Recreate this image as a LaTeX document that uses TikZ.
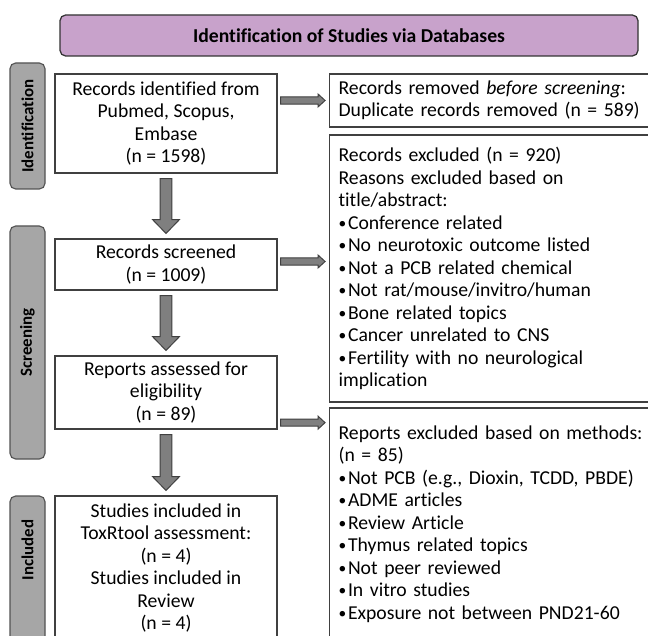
\documentclass[tikz,border=0pt]{standalone}
\usepackage{fontspec}
\setmainfont{Carlito}[Ligatures=NoCommon]
\usepackage{xcolor}
\usepackage{tikz}
\usetikzlibrary{calc}

\definecolor{headfill}{HTML}{C8A2CB}
\definecolor{stagefill}{HTML}{A6A6A6}
\definecolor{edge}{HTML}{404040}
\definecolor{arrowfill}{HTML}{7F7F7F}

\newlength{\pxu}
\setlength{\pxu}{0.025cm}
\newcommand{\bul}{\raisebox{.7pt}{\fontsize{11}{11}\selectfont•}\hspace{1.2pt}}

\begin{document}
\begin{tikzpicture}[
  x=0.025cm,y=-0.025cm,
  header/.style={draw=edge!80!black,line width=.9pt,rounded corners=4pt,
    fill=headfill,font=\fontsize{14}{16}\selectfont\bfseries,
    minimum width=578\pxu,minimum height=41\pxu},
  stage/.style={draw=edge!90,line width=.8pt,rounded corners=4pt,
    fill=stagefill,rotate=90,font=\fontsize{12}{14}\selectfont\bfseries,
    minimum height=35\pxu,inner sep=0pt},
  stepbox/.style={draw=edge,line width=.9pt,fill=white,align=center,
    font=\fontsize{14}{16}\selectfont,minimum width=222\pxu,inner sep=2pt},
  outbox/.style={draw=edge,line width=.9pt,fill=white,align=left,
    anchor=west,font=\fontsize{14}{16}\selectfont,text width=330\pxu,
    inner xsep=9\pxu,inner ysep=2pt},
  fatarrow/.style={draw=edge,line width=.7pt,fill=arrowfill,line join=miter}
]
\useasboundingbox (0,0) rectangle (648,635);
\clip (0,0) rectangle (648,635);
\fill[white] (0,0) rectangle (648,635);

\node[header] (title) at (349,35.5) {Identification of Studies via Databases};

\node[stage,minimum width=126\pxu] (idlab) at (27.5,126) {Identification};
\node[stage,minimum width=233\pxu] (scrlab) at (27.5,342.5) {Screening};
\node[stage,minimum width=164\pxu] (inclab) at (27.5,578)
  {\hspace*{56\pxu}Included};

\node[stepbox,minimum height=99\pxu] (idf) at (166,123.5)
  {Records identified from\\Pubmed, Scopus,\\Embase\\(n = 1598)};
\node[stepbox,minimum height=51\pxu] (scr) at (166,264.5)
  {Records screened\\(n = 1009)};
\node[stepbox,minimum height=73\pxu] (rep) at (166,392.5)
  {Reports assessed for\\eligibility\\(n = 89)};
\node[stepbox,minimum height=144\pxu] (inc) at (166,568)
  {Studies included in\\ToxRtool assessment:\\(n = 4)\\Studies included in\\Review\\(n = 4)};

\node[outbox,minimum height=53\pxu] (rem) at (329,100.5)
  {Records removed \textit{before screening}:\\Duplicate records removed (n = 589)};
\node[outbox,minimum height=267\pxu] (exc) at (329,268.5)
  {Records excluded (n = 920)\\Reasons excluded based on\\title/abstract:\\
   \bul Conference related\\\bul No neurotoxic outcome listed\\
   \bul Not a PCB related chemical\\\bul Not rat/mouse/invitro/human\\
   \bul Bone related topics\\\bul Cancer unrelated to CNS\\
   \bul Fertility with no neurological\\implication\\[-7pt]};
\node[outbox,minimum height=232\pxu] (rex) at (329,524)
  {Reports excluded based on methods:\\(n = 85)\\
   \bul Not PCB (e.g., Dioxin, TCDD, PBDE)\\\bul ADME articles\\\bul Review Article\\
   \bul Thymus related topics\\\bul Not peer reviewed\\\bul In vitro studies\\
   \bul Exposure not between PND21-60};

% down the main column
\draw[fatarrow] let \p1=(idf.south), \p2=(scr.north) in
  (\x1-4.25pt,\y1-3.5pt) -- (\x1+4.25pt,\y1-3.5pt) -- (\x1+4.25pt,\y2+13.4pt)
  -- (\x1+9.6pt,\y2+13.4pt) -- (\x1,\y2+3.5pt) -- (\x1-9.6pt,\y2+13.4pt)
  -- (\x1-4.25pt,\y2+13.4pt) -- cycle;
\draw[fatarrow] let \p1=(scr.south), \p2=(rep.north) in
  (\x1-4.25pt,\y1-3.5pt) -- (\x1+4.25pt,\y1-3.5pt) -- (\x1+4.25pt,\y2+13.4pt)
  -- (\x1+9.6pt,\y2+13.4pt) -- (\x1,\y2+3.5pt) -- (\x1-9.6pt,\y2+13.4pt)
  -- (\x1-4.25pt,\y2+13.4pt) -- cycle;
\draw[fatarrow] let \p1=(rep.south), \p2=(inc.north) in
  (\x1-4.25pt,\y1-3.5pt) -- (\x1+4.25pt,\y1-3.5pt) -- (\x1+4.25pt,\y2+13.4pt)
  -- (\x1+9.6pt,\y2+13.4pt) -- (\x1,\y2+3.5pt) -- (\x1-9.6pt,\y2+13.4pt)
  -- (\x1-4.25pt,\y2+13.4pt) -- cycle;

% out to the exclusions
\draw[fatarrow] let \p1=(idf.east |- rem.west), \p2=(rem.west) in
  (\x1+2.1pt,\y1+2.5pt) -- (\x2-7.8pt,\y1+2.5pt) -- (\x2-7.8pt,\y1+4.6pt)
  -- (\x2-2.8pt,\y1) -- (\x2-7.8pt,\y1-4.6pt) -- (\x2-7.8pt,\y1-2.5pt)
  -- (\x1+2.1pt,\y1-2.5pt) -- cycle;
\draw[fatarrow] let \p1=($(scr.east)+(0,-3)$), \p2=(exc.west) in
  (\x1+2.1pt,\y1+2.5pt) -- (\x2-7.8pt,\y1+2.5pt) -- (\x2-7.8pt,\y1+4.6pt)
  -- (\x2-2.8pt,\y1) -- (\x2-7.8pt,\y1-4.6pt) -- (\x2-7.8pt,\y1-2.5pt)
  -- (\x1+2.1pt,\y1-2.5pt) -- cycle;
\draw[fatarrow] let \p1=($(rep.south east)+(0,-7)$), \p2=(rex.west) in
  (\x1+2.1pt,\y1+2.5pt) -- (\x2-7.8pt,\y1+2.5pt) -- (\x2-7.8pt,\y1+4.6pt)
  -- (\x2-2.8pt,\y1) -- (\x2-7.8pt,\y1-4.6pt) -- (\x2-7.8pt,\y1-2.5pt)
  -- (\x1+2.1pt,\y1-2.5pt) -- cycle;
\end{tikzpicture}
\end{document}
